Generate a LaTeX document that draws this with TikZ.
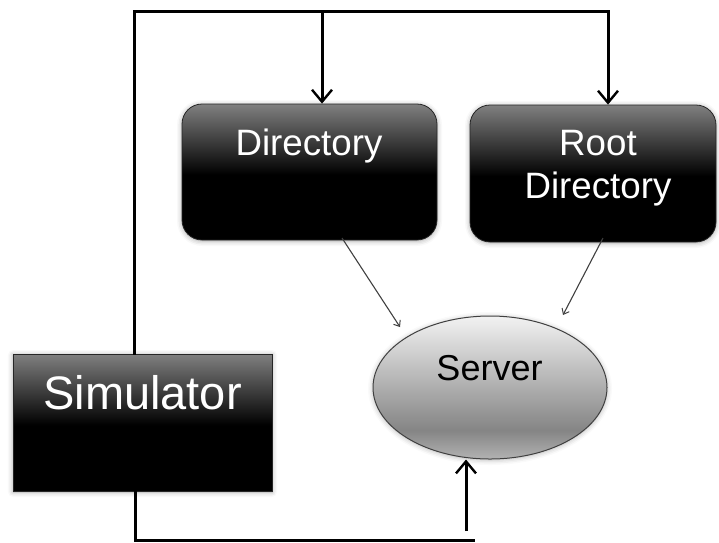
\documentclass[tikz,border=0pt]{standalone}
\usepackage{fontspec}
\setmainfont{Liberation Sans}
\usetikzlibrary{arrows.meta,shadows.blur,shapes.geometric}

% dark glossy fill for the boxes: grey at the top, black from the middle down
\pgfdeclareverticalshading{darkbox}{100bp}{%
  color(0bp)=(black); color(25bp)=(black); color(49bp)=(black);
  color(75bp)=(black!50); color(100bp)=(black!50)}
% light grey fill for the server ellipse, darkest just above the bottom
\pgfdeclareverticalshading{greyoval}{100bp}{%
  color(0bp)=(black!30); color(25bp)=(black!30); color(35bp)=(black!48);
  color(49bp)=(black!33); color(75bp)=(black!5); color(100bp)=(black!5)}

\tikzset{
  darkbox/.style={draw=black!85, line width=0.8pt, shading=darkbox,
    blur shadow={shadow xshift=0pt, shadow yshift=-1pt,
      shadow blur radius=5pt, shadow opacity=35}},
  roundbox/.style={darkbox, rounded corners=20pt},
  oval/.style={ellipse, draw=black!75, line width=1pt, shading=greyoval,
    blur shadow={shadow xshift=0pt, shadow yshift=-1pt,
      shadow blur radius=5pt, shadow opacity=30}},
  wlabel/.style={text=white, align=center, inner sep=0pt},
  blabel/.style={text=black, align=center, inner sep=0pt},
  bus/.style={line width=3pt, black},
  feed/.style={bus, -{Straight Barb[length=12pt,width=20pt,line width=2.4pt]}},
  thinarr/.style={line width=1.1pt, black!75,
    -{Straight Barb[length=5pt,width=8pt,line width=1pt]}},
}

\begin{document}
\begin{tikzpicture}[x=1pt,y=-1pt]
  \useasboundingbox (0,0) rectangle (719,542);

  % boxes
  \node[roundbox, minimum width=255pt, minimum height=136pt, inner sep=0pt]
    (dir) at (309.5,172) {};
  \node[roundbox, minimum width=246pt, minimum height=137pt, inner sep=0pt]
    (root) at (593,173.5) {};
  \node[darkbox, minimum width=259pt, minimum height=137pt, inner sep=0pt]
    (sim) at (142.5,422.5) {};
  \node[oval, minimum width=234pt, minimum height=143pt, inner sep=0pt]
    (srv) at (490,387.5) {};

  % labels
  \node[wlabel, font=\fontsize{36.7}{43}\selectfont] (dirt) at (309,146) {Directory};
  \node[wlabel, font=\fontsize{36.7}{43}\selectfont] (roott) at (598,168) {Root\\Directory};
  \node[wlabel, font=\fontsize{47}{52}\selectfont] (simt) at (142.5,393) {Simulator};
  \node[blabel, font=\fontsize{36}{40}\selectfont] (srvt) at (489.5,368) {Server};

  % junction points of the wiring
  \coordinate (tl) at (134,11);
  \coordinate (tm) at (322,11);
  \coordinate (tr) at (608,11);
  \coordinate (bl) at (135,540);
  \coordinate (br) at (475,540);
  \coordinate (sfeed) at (466,531);
  \coordinate (dout) at (342,238);
  \coordinate (dend) at (400,327);
  \coordinate (rout) at (603,238);
  \coordinate (rend) at (563,315);

  % top bus from the simulator to both directories
  \draw[bus, line cap=rect] (tl |- sim.north) -- (tl) -- (tr);
  \draw[feed] (tm) -- (tm |- dir.north);
  \draw[feed] (tr) -- (tr |- root.north);

  % bottom line and the feed into the server
  \draw[bus] (bl |- sim.south) -- (bl) -- (br);
  \draw[feed] (sfeed) -- (sfeed |- srv.south);

  % directories to server
  \draw[thinarr] (dout) -- (dend);
  \draw[thinarr] (rout) -- (rend);
\end{tikzpicture}
\end{document}
